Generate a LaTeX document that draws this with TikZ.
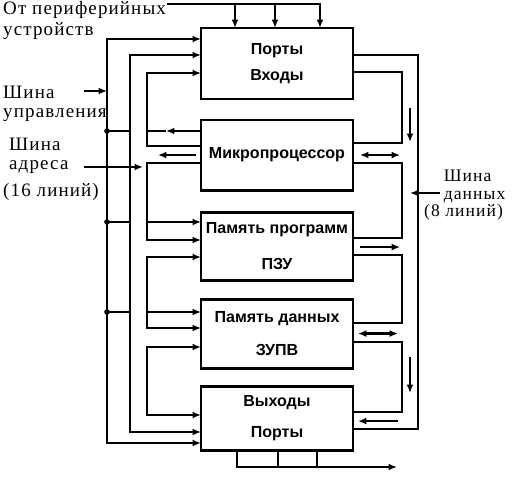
\documentclass[tikz,border=0pt]{standalone}
\usepackage{fontspec}
\setmainfont{Liberation Serif}
\newfontfamily\boxfont{Liberation Sans}
\newfontfamily\sigfont[LetterSpace=6]{Liberation Serif}
\usetikzlibrary{positioning, arrows.meta}

\tikzset{
  block/.style={rectangle, draw, line width=2.1pt, outer sep=0pt, minimum width=3.8cm,
    align=center, font=\boxfont\bfseries\fontsize{11.4}{13}\selectfont},
  signame/.style={inner sep=0pt, align=left, font=\sigfont\fontsize{13.5}{14}\selectfont},
}

\begin{document}
\begin{tikzpicture}[x=0.025cm, y=-0.025cm, line width=1.7pt, >={Latex[length=6pt,width=5pt]}]
        \useasboundingbox (0,0) rectangle (520,490);

        % blocks
        \node[block, minimum height=1.775cm] (portsIn) at (277,63.5) {Порты\\[6pt]Входы};
        \node[block, minimum height=1.75cm, below=0.525cm of portsIn] (cpu) {Микропроцессор};
        \node[block, minimum height=1.7cm, below=0.55cm of cpu] (rom) {Память программ\\[12pt]ПЗУ};
        \node[block, minimum height=1.725cm, below=0.475cm of rom] (ram) {Память данных\\[10pt]ЗУПВ};
        \node[block, minimum height=1.6cm, below=0.45cm of ram] (portsOut) {Выходы\\[9pt]Порты};

        % bus names
        \node[signame, anchor=north west, font=\sigfont\fontsize{13.5}{15}\selectfont] (fromPeriph) at (2,0) {От периферийных\\устройств};
        \node[signame, anchor=north west, font=\sigfont\fontsize{13.5}{13.5}\selectfont] (ctrlName) at (2,85) {Шина\\управления};
        \node[signame, anchor=north west, font=\sigfont\fontsize{13.5}{13.5}\selectfont] (addrName) at (8,137) {Шина\\адреса};
        \node[signame, anchor=north west] (addrWidth) at (2,182) {(16 линий)};
        \node[signame, anchor=north west, font=\sigfont\fontsize{12.5}{12.5}\selectfont] (dataName) at (423,169) {\hspace*{14pt}Шина\\\hspace*{14pt}данных\\(8 линий)};

        \coordinate (topBus) at (320,4);
        \coordinate (ctrlIn) at (84,91);
        \coordinate (addrIn) at (84,167);
        \coordinate (dataIn) at (440,193);

        % from the peripherals
        \draw[->] (fromPeriph.east |- topBus) -| (portsIn.north -| topBus);
        \foreach \xx in {235,275}
          \draw[->] (\xx,4) -- (portsIn.north -| \xx,0);

        % control bus
        \draw[->] (ctrlIn) -- (ctrlIn -| 107,0);
        \draw[<->] (portsIn.west |- 0,39) -| (107,443) -- (portsOut.west |- 0,443);
        \foreach \yy in {131,222,312} {
          \fill (107,\yy) circle (2pt);
          \draw (107,\yy) -- (130,\yy);
        }
        \draw[<->] (portsIn.west |- 0,55) -| (130,432) -- (portsOut.west |- 0,432);

        % address bus
        \draw[->] (addrIn) -- (143,167);
        \draw[<-] (portsIn.west |- 0,73) -| (147,146) -- (cpu.west |- 0,146);
        \draw[->] (cpu.west |- 0,131) -- (166,131);
        \draw (166,131) -- (147,131);
        \draw[->] (cpu.west) ++(-5,0) -- ++(-38,0);
        \draw[->] (cpu.west |- 0,163) -| (147,240) -- (rom.west |- 0,240);
        \draw[->] (147,222) -- (rom.west |- 0,222);
        \draw[<->] (rom.west |- 0,257) -| (147,328) -- (ram.west |- 0,328);
        \draw[->] (147,312) -- (ram.west |- 0,312);
        \draw[<->] (ram.west |- 0,347) -| (147,415) -- (portsOut.west |- 0,415);

        % data bus
        \draw[->] (dataIn) -- (410,193);
        \draw (portsIn.east |- 0,55) -| (418,429) -- (portsOut.east |- 0,429);
        \draw (portsIn.east |- 0,72) -| (402,143) -- (cpu.east |- 0,143);
        \draw (cpu.east |- 0,163) -| (402,238) -- (rom.east |- 0,238);
        \draw (rom.east |- 0,255) -| (402,323) -- (ram.east |- 0,323);
        \draw (ram.east |- 0,342) -| (402,412) -- (portsOut.east |- 0,412);
        \draw[->] (410,108) -- (410,142);
        \draw[->] (410,357) -- (410,393);
        \draw[<->] (cpu.east) ++(7,0) -- ++(40,0);
        \draw[->] (rom.east) ++(7,1) -- ++(40,0);
        \draw[<->] (ram.east) ++(5,0) -- ++(40,0);
        \draw[<-] (portsOut.east) ++(5,3) -- ++(40,0);

        % to the peripherals
        \draw[->] (portsOut.south -| 237,0) |- (397,467);
        \foreach \xx in {278,317}
          \draw (portsOut.south -| \xx,0) -- (\xx,467);
      \end{tikzpicture}
\end{document}
